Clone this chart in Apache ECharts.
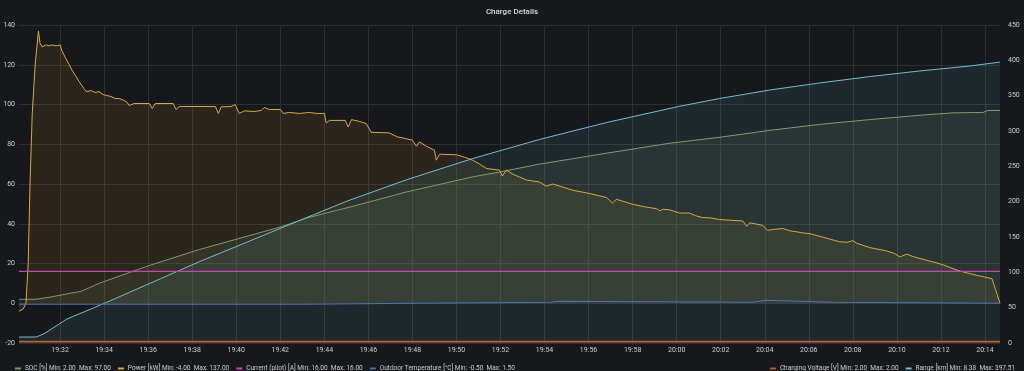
<!DOCTYPE html>
<html><head><meta charset="utf-8">
<script src="https://cdn.jsdelivr.net/npm/echarts@6/dist/echarts.min.js"></script>
<style>html,body{margin:0;padding:0;background:#17181b;}#c{width:1024px;height:371px;}</style>
</head><body><div id="c"></div><script>
const startTime = '19:30:08';
const endTime = '20:14:41';

const socTimes = ['19:30:08','19:30:55','19:31:30','19:32:57','19:33:46','19:36:03','19:38:19','19:40:35','19:42:03','19:43:14','19:45:22','19:47:44','19:50:44','19:51:57','19:53:46','19:56:49','19:59:41','20:01:57','20:04:14','20:06:30','20:08:46','20:11:03','20:12:33','20:13:55','20:14:08','20:14:41'];
const socValues = [2,2,3,6,10,19,27,34,38.5,43,49,56,63.6,66,70,75.5,80.5,83.5,87,90,92.4,94.6,95.8,96,97,97];

const powerTimes = ['19:30:08','19:30:19','19:30:27','19:30:33','19:30:38','19:30:44','19:30:52','19:31:01','19:31:05','19:31:11','19:31:22','19:31:30','19:31:38','19:31:49','19:32:00','19:32:05','19:32:16','19:32:25','19:32:33','19:32:44','19:32:52','19:33:05','19:33:11','19:33:25','19:33:35','19:33:46','19:33:57','19:34:08','19:34:19','19:34:30','19:34:41','19:34:55','19:35:03','19:35:08','19:35:22','19:36:03','19:36:11','19:36:19','19:37:08','19:37:16','19:37:25','19:39:03','19:39:11','19:39:19','19:39:46','19:39:57','19:40:08','19:40:22','19:40:49','19:41:08','19:41:16','19:41:30','19:42:00','19:42:08','19:42:25','19:42:52','19:43:19','19:43:41','19:44:00','19:44:05','19:44:14','19:44:57','19:45:05','19:45:14','19:45:35','19:45:54','19:46:08','19:46:57','19:47:19','19:47:38','19:48:00','19:48:11','19:48:19','19:48:38','19:49:00','19:49:05','19:49:14','19:50:00','19:50:22','19:50:44','19:51:03','19:51:22','19:51:57','19:52:05','19:52:16','19:52:33','19:52:52','19:53:11','19:53:46','19:54:05','19:54:22','19:54:49','19:55:16','19:56:03','19:56:49','19:57:05','19:57:16','19:58:00','19:58:33','19:59:05','19:59:14','19:59:22','19:59:41','20:00:08','20:00:35','20:00:52','20:01:11','20:01:30','20:01:57','20:02:24','20:03:00','20:03:11','20:03:19','20:03:54','20:04:08','20:04:27','20:04:49','20:05:08','20:05:44','20:06:03','20:06:30','20:06:57','20:07:24','20:07:46','20:08:00','20:08:11','20:08:46','20:09:14','20:09:33','20:09:54','20:10:08','20:10:27','20:10:44','20:11:03','20:11:30','20:11:49','20:12:11','20:12:33','20:12:52','20:13:19','20:13:46','20:14:19','20:14:41'];
const powerValues = [-4,-3,0,20,60,95,120,137,131,129,130,129.5,130,129.5,130,127,123,120,117,114,111.5,108,106.5,107,106,106.5,105,104.5,104,103,103,102,101,99.5,100.5,100.5,98,100.5,100.5,97.5,99,99,95.5,98.8,99,100,95.5,96.8,96.5,97,98.5,97.5,97.5,95.5,96,95.5,96,95.5,95.5,90.7,92,92,88.7,92.4,91.5,90.4,86,85.7,83.7,83,82,79,81.2,79,77,72,75,74.7,73.5,72,70,67.8,67,64,67,65,63.5,62,61,58.9,60,58.5,56.9,55.2,53.2,50.5,52.3,49.8,48.5,47.6,46.5,47.3,47,45.4,45.4,44,43.1,43,42.1,41.8,41.4,38.7,40.5,39.2,36.7,37.2,37.6,36.5,35.4,35,33.7,32.3,30.9,30.7,31.5,30.2,28,27,26.3,25,23.3,24.7,23.5,22.5,21.2,20.3,19,17.4,16.2,14.9,13.7,12.4,0];

const currentTimes = ['19:30:08','20:14:41'];
const currentValues = [16,16];

const tempTimes = ['19:30:08','19:43:08','19:48:05','19:54:19','19:54:33','20:03:27','20:04:05','20:07:05','20:14:41'];
const tempValues = [-0.5,0,0.5,1,0.5,1.5,0.5,0,0];

const voltageTimes = ['19:30:08','20:14:41'];
const voltageValues = [2,2];

const rangeTimes = ['19:30:08','19:30:55','19:31:16','19:32:19','19:34:00','19:36:03','19:38:19','19:40:35','19:43:14','19:45:03','19:47:44','19:50:44','19:53:46','19:56:49','20:00:08','20:01:57','20:04:14','20:06:30','20:08:46','20:11:03','20:13:19','20:14:41'];
const rangeValues = [8.38,8.5,13,34,56,84,115,144,178,201,231,261,288,312,335,346,358,368,377,385,392,397.51];

const leftTicks = {min: -20, max: 140, interval: 20};
const rightTicks = {min: 0, max: 450, interval: 50};

function toMin(s){const p=s.split(':').map(Number);return p[0]*60+p[1]+p[2]/60;}
function pair(ts,vs){return ts.map((t,i)=>[toMin(t),vs[i]]);}
function fmt2(v){return v.toFixed(2);}
function pad(n){return (n<10?'0':'')+n;}

const seriesDefs = [
  {name:'SOC [%]', times:socTimes, values:socValues, color:'#7e9d6a', axis:0, area:true},
  {name:'Power [kW]', times:powerTimes, values:powerValues, color:'#d6aa3e', axis:0, area:true},
  {name:'Current (pilot) [A]', times:currentTimes, values:currentValues, color:'#c04aae', axis:0, area:false},
  {name:'Outdoor Temperature [°C]', times:tempTimes, values:tempValues, color:'#4f73b0', axis:0, area:false, step:'end'},
  {name:'Charging Voltage [V]', times:voltageTimes, values:voltageValues, color:'#b8612a', axis:1, area:false, width:1.6},
  {name:'Range [km]', times:rangeTimes, values:rangeValues, color:'#6fc0cc', axis:1, area:true}
];
const stats = {};
seriesDefs.forEach(d=>{stats[d.name]='Min: '+fmt2(Math.min(...d.values))+'  Max: '+fmt2(Math.max(...d.values));});

const textColor = '#c7d0d9';
const gridColor = '#2e2f33';
const font = 'Roboto, "Noto Sans", sans-serif';

const chart = echarts.init(document.getElementById('c'), null, {renderer:'canvas'});
chart.setOption({
  backgroundColor: '#17181b',
  animation: false,
  title: {text:'Charge Details', left:'center', top:3, textStyle:{color:'#d8d9da', fontSize:8, fontWeight:500, fontFamily:font}},
  grid: {left:19, right:24, top:25, bottom:28, containLabel:false},
  legend: [
    {left:10, top:360, icon:'rect', itemWidth:6, itemHeight:2, itemGap:7,
     data: seriesDefs.filter(d=>d.axis===0).map(d=>d.name),
     formatter: n=>n+' '+stats[n],
     textStyle:{color:textColor, fontSize:6.5, fontFamily:font, padding:[0,0,0,-1]}},
    {right:4, top:360, icon:'rect', itemWidth:6, itemHeight:2, itemGap:7,
     data: seriesDefs.filter(d=>d.axis===1).map(d=>d.name),
     formatter: n=>n+' '+stats[n],
     textStyle:{color:textColor, fontSize:6.5, fontFamily:font, padding:[0,0,0,-1]}}
  ],
  xAxis: {
    type:'value', min:toMin(startTime), max:toMin(endTime), splitNumber:22,
    axisLine:{show:false}, axisTick:{show:false},
    axisLabel:{color:textColor, fontSize:7, fontFamily:font, margin:4, showMinLabel:false, showMaxLabel:false,
      formatter: v=>{const h=Math.floor(v/60), m=Math.round(v-h*60); return pad(h)+':'+pad(m);}},
    splitLine:{show:true, showMinLine:false, showMaxLine:false, lineStyle:{color:gridColor, width:1}}
  },
  yAxis: [
    {type:'value', position:'left', min:leftTicks.min, max:leftTicks.max, interval:leftTicks.interval,
     axisLine:{show:false}, axisTick:{show:false},
     axisLabel:{color:textColor, fontSize:7, fontFamily:font, margin:4},
     splitLine:{show:true, lineStyle:{color:gridColor, width:1}}},
    {type:'value', position:'right', min:rightTicks.min, max:rightTicks.max, interval:rightTicks.interval,
     axisLine:{show:false}, axisTick:{show:false},
     axisLabel:{color:textColor, fontSize:7, fontFamily:font, margin:8},
     splitLine:{show:false}}
  ],
  series: seriesDefs.map(d=>({
    name:d.name, type:'line', yAxisIndex:d.axis, data:pair(d.times,d.values),
    showSymbol:false, symbol:'none', step:d.step||false, z: d.area ? 2 : 4, clip:false,
    lineStyle:{color:d.color, width:d.width || (d.area ? 1 : 1.2)}, itemStyle:{color:d.color},
    areaStyle: d.area ? {color:d.color, opacity:0.1} : undefined,
    emphasis:{disabled:true}
  }))
});
</script></body></html>
